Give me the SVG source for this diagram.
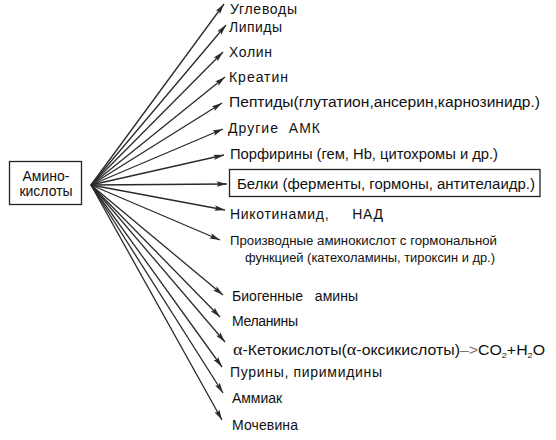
<svg xmlns="http://www.w3.org/2000/svg" width="556" height="440" viewBox="0 0 556 440">
<defs>
<marker id="ah" markerUnits="userSpaceOnUse" markerWidth="11" markerHeight="6" refX="10.5" refY="2.75" orient="auto">
<path d="M0,0 L10.5,2.75 L0,5.5 L2,2.75 z" fill="#2a2a2a"/>
</marker>
<style>
.t{font-family:"Liberation Sans",Arial,sans-serif;font-size:14px;fill:#111}
.s{font-family:"Liberation Sans",Arial,sans-serif;font-size:12.5px;fill:#111}
.a{font-family:"Liberation Serif","Times New Roman",serif}
.c line{stroke:#2a2a2a;stroke-width:1.3;marker-end:url(#ah)}
.box{fill:#fff;stroke:#222;stroke-width:1.3}
</style>
</defs>
<rect width="556" height="440" fill="#fff"/>
<g class="c" id="connectors">
<line x1="91" y1="185" x2="224" y2="4"/>
<line x1="91" y1="185" x2="226" y2="25"/>
<line x1="91" y1="185" x2="223" y2="52"/>
<line x1="91" y1="185" x2="225" y2="77"/>
<line x1="91" y1="185" x2="222" y2="103"/>
<line x1="91" y1="185" x2="223" y2="129"/>
<line x1="91" y1="185" x2="224" y2="155"/>
<line x1="91" y1="185" x2="227" y2="184"/>
<line x1="91" y1="185" x2="225" y2="210"/>
<line x1="91" y1="185" x2="220" y2="240"/>
<line x1="91" y1="185" x2="223" y2="295"/>
<line x1="91" y1="185" x2="220" y2="317"/>
<line x1="91" y1="185" x2="225" y2="342"/>
<line x1="91" y1="185" x2="222" y2="367"/>
<line x1="91" y1="185" x2="223" y2="393"/>
<line x1="91" y1="185" x2="222" y2="420"/>
</g>
<g id="aminoacids">
<rect class="box" x="9.5" y="161.5" width="72" height="43"/>
<text class="t" x="46" y="181" text-anchor="middle">Амино-</text>
<text class="t" x="46" y="196" text-anchor="middle">кислоты</text>
</g>
<g id="n1"><text class="t" x="230" y="14" textLength="67">Углеводы</text></g>
<g id="n2"><text class="t" x="229" y="32" textLength="53">Липиды</text></g>
<g id="n3"><text class="t" x="229" y="57" textLength="43">Холин</text></g>
<g id="n4"><text class="t" x="229" y="82" textLength="59">Креатин</text></g>
<g id="n5"><text class="t" x="229" y="107" textLength="311" lengthAdjust="spacingAndGlyphs">Пептиды(глутатион,ансерин,карнозинидр.)</text></g>
<g id="n6"><text class="t" x="228" y="133" textLength="92" xml:space="preserve">Другие  АМК</text></g>
<g id="n7"><text class="t" x="230" y="159" textLength="268" lengthAdjust="spacingAndGlyphs">Порфирины (гем, Hb, цитохромы и др.)</text></g>
<g id="n8">
<rect class="box" x="229.5" y="169.5" width="310.5" height="27"/>
<text class="t" x="237" y="189" textLength="298" lengthAdjust="spacingAndGlyphs">Белки (ферменты, гормоны, антителаидр.)</text>
</g>
<g id="n9"><text class="t" x="230" y="219" textLength="153" xml:space="preserve">Никотинамид,     НАД</text></g>
<g id="n10">
<text class="s" x="230" y="245" textLength="267" lengthAdjust="spacingAndGlyphs">Производные аминокислот с гормональной</text>
<text class="s" x="245" y="262" textLength="250" lengthAdjust="spacingAndGlyphs">функцией (катехоламины, тироксин и др.)</text>
</g>
<g id="n11"><text class="t" x="232" y="301" textLength="126" xml:space="preserve">Биогенные   амины</text></g>
<g id="n12"><text class="t" x="232" y="326" textLength="66">Меланины</text></g>
<g id="n13"><text class="t" x="233" y="355" textLength="312" lengthAdjust="spacingAndGlyphs"><tspan class="a" font-size="16">α</tspan>-Кетокислоты(<tspan class="a" font-size="16">α</tspan>-оксикислоты)<tspan fill="#777">–&gt;</tspan>CO<tspan font-size="8" dy="3">2</tspan><tspan dy="-3">+H</tspan><tspan font-size="8" dy="3">2</tspan><tspan dy="-3">O</tspan></text></g>
<g id="n14"><text class="t" x="230" y="377" textLength="152">Пурины, пиримидины</text></g>
<g id="n15"><text class="t" x="232" y="403" textLength="50">Аммиак</text></g>
<g id="n16"><text class="t" x="232" y="430" textLength="66">Мочевина</text></g>
</svg>
